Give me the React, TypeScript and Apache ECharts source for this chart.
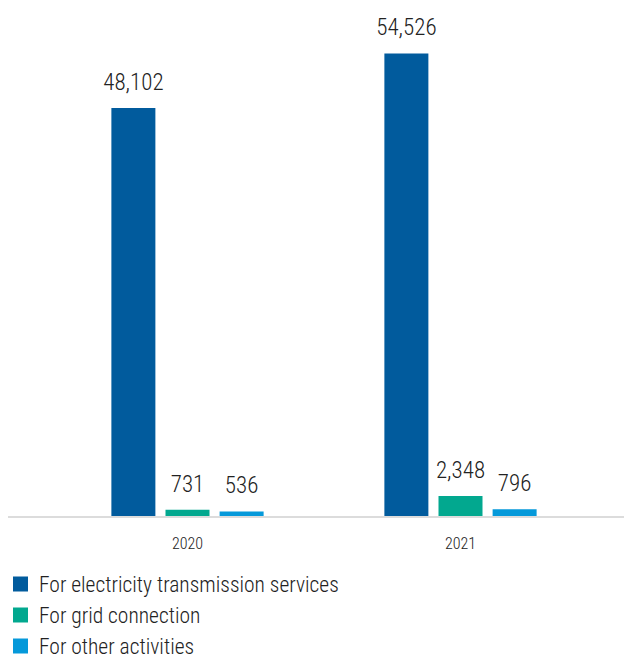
import React, { useEffect, useRef } from "react";
import * as echarts from "echarts";

const categories = ["2020", "2021"];
const seriesNames = [
  "For electricity transmission services",
  "For grid connection",
  "For other activities",
];
const transmission = [48102, 54526];
const gridConnection = [731, 2348];
const otherActivities = [536, 796];
const colors = ["#015b9d", "#02a88f", "#0599da"];

const FONT = "'Roboto Condensed', 'Liberation Sans Narrow', 'Roboto', sans-serif";

export default function App() {
  const ref = useRef<HTMLDivElement>(null);
  useEffect(() => {
    document.body.style.margin = "0";
    if (!ref.current) return;
    const chart = echarts.init(ref.current, null, { renderer: "svg" });
    const values = [transmission, gridConnection, otherActivities];
    const legendTops = [573, 604, 635];
    chart.setOption({
      animation: false,
      textStyle: { fontFamily: FONT },
      grid: { left: 51, right: 27, top: 7, bottom: 141, containLabel: false },
      xAxis: {
        type: "category",
        data: categories,
        axisLine: { show: false },
        axisTick: { show: false },
        axisLabel: { color: "#222", fontSize: 16, fontWeight: 300, margin: 19, fontFamily: FONT },
      },
      yAxis: {
        type: "value",
        min: 0,
        max: 60000,
        show: false,
        splitLine: { show: false },
      },
      legend: seriesNames.map((name, i) => ({
        orient: "vertical",
        left: 13,
        top: legendTops[i],
        padding: 0,
        itemWidth: 15,
        itemHeight: 15,
        icon: "rect",
        textStyle: {
          color: "#222",
          fontSize: 21.5,
          fontWeight: 300,
          lineHeight: 20,
          fontFamily: FONT,
          padding: [0, 0, 0, 6],
        },
        data: [name],
      })),
      graphic: [
        {
          type: "line",
          shape: { x1: 8, y1: 517, x2: 624, y2: 517 },
          style: { stroke: "#dcdcdc", lineWidth: 2 },
          silent: true,
        },
      ],
      series: seriesNames.map((name, i) => ({
        name,
        type: "bar",
        data: values[i],
        barWidth: 44,
        barGap: "23%",
        itemStyle: { color: colors[i] },
        label: {
          show: true,
          position: "top",
          distance: 14,
          color: "#222",
          fontSize: 23,
          fontWeight: 300,
          fontFamily: FONT,
          formatter: (p: any) => Number(p.value).toLocaleString("en-US"),
        },
      })),
    });
    return () => chart.dispose();
  }, []);
  return <div ref={ref} style={{ width: 624, height: 657 }} />;
}
